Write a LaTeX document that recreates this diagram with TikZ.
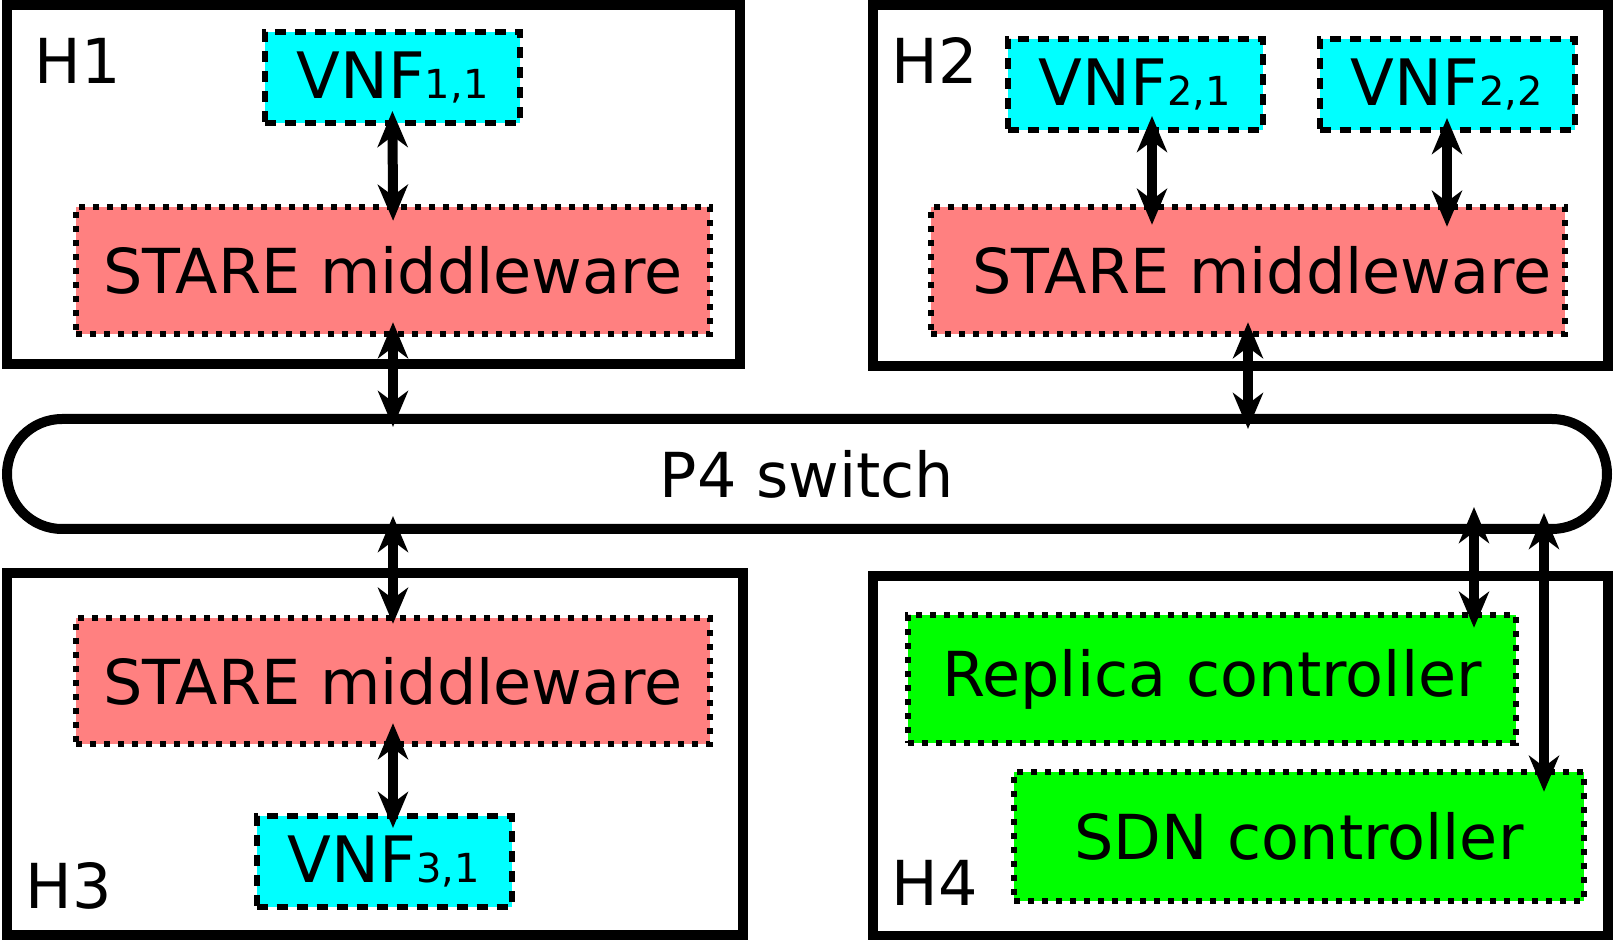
\documentclass[tikz,border=0pt]{standalone}
\usepackage{fontspec}
\setmainfont{DejaVu Sans}
\usetikzlibrary{arrows.meta}
\definecolor{vnffill}{HTML}{00FFFF}
\definecolor{starefill}{HTML}{FF8080}
\definecolor{ctrlfill}{HTML}{00FF00}
\tikzset{
  host/.style={rectangle, draw=black, line width=5pt},
  hostname/.style={anchor=base west, inner sep=0pt, font=\fontsize{31}{36}\selectfont},
  vnf/.style={rectangle, fill=vnffill, draw=black, line width=3pt,
              dash pattern=on 5.5pt off 4.5pt, minimum width=127.5pt,
              minimum height=45.5pt, font=\fontsize{32}{38}\selectfont},
  mid/.style={rectangle, fill=starefill, draw=black, line width=3.2pt,
              dash pattern=on 3.2pt off 3.8pt, minimum width=317pt,
              minimum height=63.5pt, font=\fontsize{31}{36}\selectfont},
  ctrl/.style={mid, fill=ctrlfill},
  switchbox/.style={rectangle, rounded corners=27.5pt, draw=black, line width=5pt,
                    minimum width=800pt, minimum height=55pt,
                    font=\fontsize{31}{36}\selectfont},
  link/.style={{Stealth[length=18pt,width=15pt,inset=5.5pt]}-{Stealth[length=18pt,width=15pt,inset=5.5pt]},
               line width=5pt},
}
\newcommand{\vnfname}[1]{VNF{\fontsize{20}{24}\selectfont #1}}

\begin{document}
\begin{tikzpicture}[x=0.5pt, y=-0.5pt]
\path[use as bounding box, fill=white] (0,0) rectangle (1613,940);

% Hosts
\node[host, minimum width=366.5pt, minimum height=179.5pt] (h1) at (373.5,184.5) {};
\node[host, minimum width=367.5pt, minimum height=180.5pt] (h2) at (1240.5,185.5) {};
\node[host, minimum width=368pt, minimum height=181pt] (h3) at (375,754) {};
\node[host, minimum width=367.5pt, minimum height=180pt] (h4) at (1240.5,756) {};
\node[hostname] (h1name) at (34,84) {H1};
\node[hostname] (h2name) at (891,84) {H2};
\node[hostname] (h3name) at (25,908) {H3};
\node[hostname] (h4name) at (891,906) {H4};

% Switch
\node[switchbox] (sw) at (807,474) {P4 switch};

% H1
\node[vnf] (vnf11) at (392.5,77.5) {\vnfname{1,1}};
\node[mid] (stare1) at (393,270.5) {STARE middleware};

% H2
\node[vnf] (vnf21) at (1135,85) {\vnfname{2,1}};
\node[vnf] (vnf22) at (1447,85) {\vnfname{2,2}};
\node[mid] (stare2) at (1248,270.5) {\hspace*{14pt}STARE middleware};

% H3
\node[mid, minimum height=63pt] (stare3) at (393,681) {STARE middleware};
\node[vnf] (vnf31) at (384,861.5) {\vnfname{3,1}};

% H4
\node[ctrl, minimum width=304pt, minimum height=64pt] (replica) at (1212,679) {Replica controller};
\node[ctrl, minimum width=285pt, minimum height=64.5pt] (sdn) at (1299,836.5) {SDN controller};

% Links
\draw[link, shorten <=-7.5pt, shorten >=-8.5pt] (vnf11.south) -- (stare1.north);
\draw[link, shorten <=-7.5pt, shorten >=-6.5pt] (stare1.south) -- (stare1.south |- sw.north);
\draw[link, shorten <=-8.75pt, shorten >=-10.5pt] ([xshift=8.5pt]vnf21.south) -- ([xshift=8.5pt]vnf21.south |- stare2.north);
\draw[link, shorten <=-7.75pt, shorten >=-11.5pt] (vnf22.south) -- (vnf22.south |- stare2.north);
\draw[link, shorten <=-7.5pt, shorten >=-7.5pt] (stare2.south) -- (stare2.south |- sw.north);
\draw[link, shorten <=-9pt, shorten >=-4.5pt] (stare3.north |- sw.south) -- (stare3.north);
\draw[link, shorten <=-12pt, shorten >=-7.5pt] (stare3.south) -- (stare3.south |- vnf31.north);
\draw[link, shorten <=-13.5pt, shorten >=-8pt] ([xshift=131pt]replica.north |- sw.south) -- ([xshift=131pt]replica.north);
\draw[link, shorten <=-10.5pt, shorten >=-11.5pt] ([xshift=122.5pt]sdn.north |- sw.south) -- ([xshift=122.5pt]sdn.north);

\end{tikzpicture}
\end{document}
